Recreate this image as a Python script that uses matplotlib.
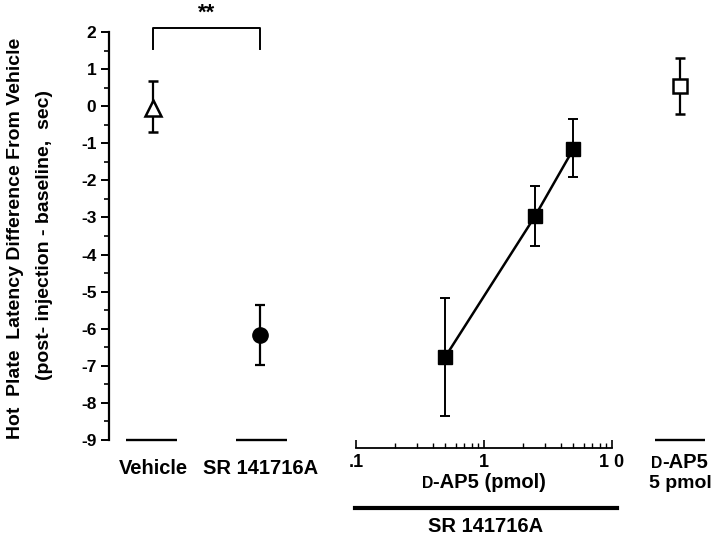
import matplotlib
matplotlib.use("Agg")
import matplotlib.pyplot as plt
from matplotlib.lines import Line2D
from matplotlib.offsetbox import TextArea, HPacker, AnnotationBbox

plt.rcParams["font.family"] = ["Liberation Sans", "DejaVu Sans"]
plt.rcParams["font.weight"] = "bold"
plt.rcParams["axes.unicode_minus"] = False

# Left panel: single-group controls
groups = ["Vehicle", "SR 141716A"]
group_x = [0.23, 0.79]
group_mean = [-0.06, -6.18]
group_err_hi = [0.67, -5.37]
group_err_lo = [-0.70, -6.98]

# Middle panel: D-AP5 dose response with SR 141716A
dose = [0.5, 2.5, 5.0]
dose_mean = [-6.75, -2.97, -1.15]
dose_err_hi = [-5.16, -2.14, -0.35]
dose_err_lo = [-8.35, -3.77, -1.91]

# Right panel: D-AP5 alone
dap5_mean = [0.54]
dap5_err_hi = [1.29]
dap5_err_lo = [-0.21]

yticks = list(range(-9, 3))
log_ticks = [0.1, 1, 10]
log_labels = [".1", "1", "1 0"]

W, H = 720, 540
fig = plt.figure(figsize=(7.2, 5.4), dpi=100)

def frac_x(px):
    return px / W

def frac_y(py):
    return (H - py) / H

bottom = frac_y(440)
height = frac_y(32) - bottom

ax = fig.add_axes([frac_x(109), bottom, frac_x(300) - frac_x(109), height])
axl = fig.add_axes([frac_x(356), bottom, frac_x(612) - frac_x(356), height])
axr = fig.add_axes([frac_x(640), bottom, frac_x(80), height])

for a in (ax, axl, axr):
    a.set_ylim(-9, 2)
    a.patch.set_alpha(0)
    for s in ("top", "right"):
        a.spines[s].set_visible(False)

# main axis with y scale
ax.set_xlim(0, 1)
ax.spines["bottom"].set_visible(False)
ax.spines["left"].set_linewidth(1.6)
ax.set_xticks([])
ax.set_yticks(yticks)
ax.set_yticks([v + 0.5 for v in yticks[:-1]], minor=True)
ax.tick_params(axis="y", which="major", direction="out", length=6, width=1.4,
               labelsize=12.5, pad=3)
ax.tick_params(axis="y", which="minor", direction="out", length=3.5, width=1.2)
for lbl in ax.get_yticklabels():
    lbl.set_fontweight("bold")

err_lo = [m - lo for m, lo in zip(group_mean, group_err_lo)]
err_hi = [hi - m for m, hi in zip(group_mean, group_err_hi)]
ax.errorbar(group_x[:1], group_mean[:1], yerr=[err_lo[:1], err_hi[:1]],
            fmt="^", ms=11, mfc="white", mec="black", mew=1.8,
            ecolor="black", elinewidth=1.6, capsize=3.5, capthick=1.6,
            clip_on=False, zorder=3)
ax.errorbar(group_x[1:], group_mean[1:], yerr=[err_lo[1:], err_hi[1:]],
            fmt="o", ms=11, mfc="black", mec="black",
            ecolor="black", elinewidth=1.6, capsize=3.5, capthick=1.6,
            clip_on=False, zorder=3)

# group baselines
ax.hlines([-9, -9], [0.089, 0.665], [0.356, 0.932], color="black", lw=1.7,
          clip_on=False)

# significance bracket
ax.plot([group_x[0], group_x[0], group_x[1], group_x[1]], [1.54, 2.1, 2.1, 1.54],
        color="black", lw=1.4, clip_on=False)
ax.text(sum(group_x) / 2, 2.5, "**", ha="center", va="center",
        fontsize=16, fontweight="bold", clip_on=False)

# log dose axis
axl.set_xscale("log")
axl.set_xlim(0.1, 10)
axl.spines["left"].set_visible(False)
axl.spines["bottom"].set_position(("outward", 6))
axl.spines["bottom"].set_linewidth(1.3)
axl.set_yticks([])
axl.set_xticks(log_ticks)
axl.set_xticklabels(log_labels)
axl.tick_params(axis="x", which="major", direction="in", length=6, width=1.2,
                labelsize=13, pad=4)
axl.tick_params(axis="x", which="minor", direction="in", length=3.5, width=1.0)
for lbl in axl.get_xticklabels():
    lbl.set_fontweight("bold")

d_lo = [m - lo for m, lo in zip(dose_mean, dose_err_lo)]
d_hi = [hi - m for m, hi in zip(dose_mean, dose_err_hi)]
axl.errorbar(dose, dose_mean, yerr=[d_lo, d_hi], fmt="s-", color="black",
             ms=10.5, lw=1.8, elinewidth=1.4, capsize=3.5, capthick=1.4,
             clip_on=False, zorder=3)

# right panel
axr.set_xlim(0, 1)
axr.axis("off")
r_lo = [m - lo for m, lo in zip(dap5_mean, dap5_err_lo)]
r_hi = [hi - m for m, hi in zip(dap5_mean, dap5_err_hi)]
axr.errorbar([0.5], dap5_mean, yerr=[r_lo, r_hi], fmt="s", ms=10.5,
             mfc="white", mec="black", mew=1.8, ecolor="black",
             elinewidth=1.6, capsize=3.5, capthick=1.6, clip_on=False, zorder=3)
axr.hlines([-9], [0.19], [0.81], color="black", lw=1.7, clip_on=False)

# y label, two lines
fig.text(frac_x(16), frac_y(238), "Hot  Plate  Latency Difference From Vehicle",
         rotation=90, ha="center", va="center", fontsize=14, fontweight="bold")
fig.text(frac_x(45), frac_y(235), "(post- injection - baseline,  sec)",
         rotation=90, ha="center", va="center", fontsize=14, fontweight="bold")

# group labels
fig.text(frac_x(153), frac_y(468), groups[0], ha="center", va="center",
         fontsize=14.5, fontweight="bold")
fig.text(frac_x(261), frac_y(468), groups[1], ha="center", va="center",
         fontsize=14.5, fontweight="bold")


def small_caps_label(x_px, y_px, rest, size):
    box = HPacker(children=[TextArea("D", textprops=dict(fontsize=size * 0.78,
                                                         fontweight="bold")),
                            TextArea(rest, textprops=dict(fontsize=size,
                                                          fontweight="bold"))],
                  align="baseline", pad=0, sep=0)
    ab = AnnotationBbox(box, (frac_x(x_px), frac_y(y_px)), xycoords="figure fraction",
                        frameon=False, box_alignment=(0.5, 0.5))
    fig.add_artist(ab)


small_caps_label(484, 482, "-AP5 (pmol)", 14.5)
small_caps_label(680, 462, "-AP5", 14.5)
fig.text(frac_x(680), frac_y(483), "5 pmol", ha="center", va="center",
         fontsize=14, fontweight="bold")

# thick bar under dose axis
fig.add_artist(Line2D([frac_x(355), frac_x(617)], [frac_y(508), frac_y(508)],
                      color="black", lw=3, transform=fig.transFigure))
fig.text(frac_x(486), frac_y(527), "SR 141716A", ha="center", va="center",
         fontsize=14.5, fontweight="bold")

fig.savefig("out.png", dpi=100)
